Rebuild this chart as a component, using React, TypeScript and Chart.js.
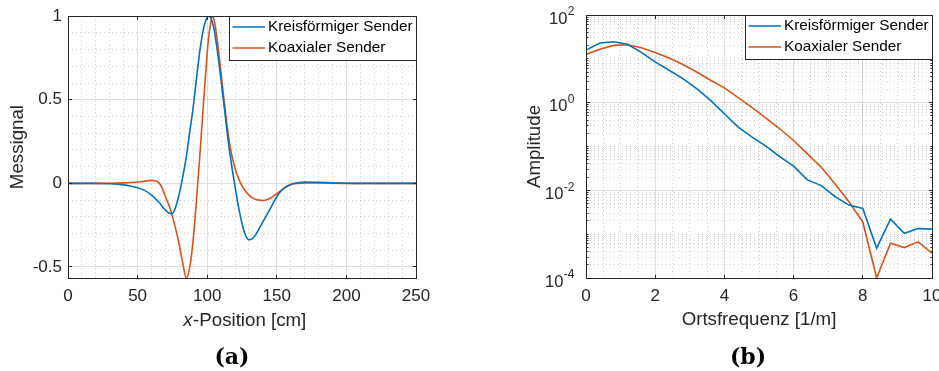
import React, { useEffect, useRef } from "react";
import { Chart, registerables } from "chart.js";
Chart.register(...registerables);

// ---------- data ----------
const SERIES = ["Kreisförmiger Sender", "Koaxialer Sender"];
const COLORS = ["#0072BD", "#D95319"];

// (a) Messignal over x-Position [cm]
const posCm = [0, 10, 20, 30, 40, 45, 50, 55, 60, 62.5, 65, 67.5, 70, 72.5, 74.5, 77, 80, 82.5, 85, 87.5, 90, 92.5, 95, 97.5, 100, 101, 102.5, 103.5, 105, 107.5, 110, 112.5, 115, 117.5, 120, 122.5, 125, 127.5, 130, 132.5, 135, 140, 145, 150, 152.5, 155, 160, 165, 170, 180, 190, 200, 210, 220, 230, 240, 250];
const signalKreis = [0, 0, 0, -0.002, -0.009, -0.016, -0.026, -0.042, -0.07, -0.088, -0.11, -0.135, -0.16, -0.177, -0.181, -0.15, -0.06, 0.04, 0.16, 0.31, 0.46, 0.64, 0.81, 0.93, 0.995, 1.0, 0.99, 0.97, 0.92, 0.78, 0.615, 0.44, 0.26, 0.11, -0.02, -0.14, -0.24, -0.31, -0.337, -0.33, -0.305, -0.23, -0.155, -0.08, -0.05, -0.03, -0.006, 0.004, 0.008, 0.006, 0.003, 0.001, 0, 0, 0, 0, 0];
const signalKoax = [0, 0, 0, 0.001, 0.003, 0.005, 0.008, 0.013, 0.018, 0.016, 0.006, -0.025, -0.08, -0.13, -0.181, -0.26, -0.37, -0.48, -0.566, -0.5, -0.33, -0.08, 0.2, 0.5, 0.78, 0.87, 0.96, 1.0, 0.975, 0.84, 0.655, 0.47, 0.3, 0.175, 0.09, 0.03, -0.015, -0.045, -0.07, -0.087, -0.097, -0.102, -0.09, -0.062, -0.047, -0.03, -0.008, 0, 0.003, 0.003, 0.001, 0, 0, 0, 0, 0, 0];
const posTicks = [0, 50, 100, 150, 200, 250];
const posTickLabels = ["0", "50", "100", "150", "200", "250"];
const signalTicks = [-0.5, 0, 0.5, 1];
const signalTickLabels = ["-0.5", "0", "0.5", "1"];

// (b) Amplitude over Ortsfrequenz [1/m]
const freq = [0, 0.4, 0.8, 1.2, 1.6, 2, 2.4, 2.8, 3.2, 3.6, 4, 4.4, 4.8, 5.2, 5.6, 6, 6.4, 6.8, 7.2, 7.6, 8, 8.4, 8.8, 9.2, 9.6, 10];
const ampKreis = [15.8, 22.9, 24.5, 21.5, 14.0, 8.5, 5.5, 3.55, 2.09, 1.13, 0.56, 0.277, 0.164, 0.102, 0.059, 0.0355, 0.0173, 0.0128, 0.00716, 0.00461, 0.00387, 0.00048, 0.00221, 0.00105, 0.00135, 0.0013];
const ampKoax = [12.6, 16.6, 20.3, 20.9, 17.9, 14.0, 10.5, 7.4, 5.0, 3.25, 2.17, 1.30, 0.77, 0.446, 0.254, 0.137, 0.068, 0.0336, 0.014, 0.0055, 0.0019, 0.0001, 0.00062, 0.000495, 0.000667, 0.000367];
const freqTicks = [0, 2, 4, 6, 8, 10];
const freqTickLabels = ["0", "2", "4", "6", "8", "10"];
const ampTicks = [1e-4, 1e-2, 1, 1e2];
const ampTickExponents = ["-4", "-2", "0", "2"];

// ---------- style ----------
const FONT = '"Liberation Sans", Arial, Helvetica, sans-serif';
const INK = "#262626";
const GRID = "#dfdfdf";
const MINOR = "rgba(38,38,38,0.22)";
const W = 939;
const H = 371;
const TOP = 15;
const BOTTOM = 278;
const A_W = 470;
const A_LEFT = 68;
const A_RIGHT = 416;
const B_OFFSET = 470;
const B_W = 480;
const B_LEFT = 116;
const B_RIGHT = 462;

const snap = (p: number) => Math.round(p - 0.5) + 0.5;

// minor grid positions (grid structure, not data)
const minorPosX: number[] = [];
for (let v = 10; v < 250; v += 10) if (v % 50 !== 0) minorPosX.push(v);
const minorSignalY: number[] = [];
for (let k = -5; k <= 10; k++) if (k % 5 !== 0) minorSignalY.push(k / 10);
const minorFreqX: number[] = [];
for (let k = 1; k < 20; k++) if (k % 4 !== 0) minorFreqX.push(k / 2);
const minorAmpY: number[] = [];
for (let d = -4; d <= 1; d++) {
  for (let k = 1; k <= 9; k++) {
    if (k === 1 && d % 2 === 0) continue;
    minorAmpY.push(k * Math.pow(10, d));
  }
}

function drawMinorGrid(chart: any, xs: number[], ys: number[]) {
  const { ctx, chartArea: a, scales } = chart;
  ctx.save();
  ctx.strokeStyle = MINOR;
  ctx.lineWidth = 1;
  ctx.setLineDash([1, 3]);
  for (const v of xs) {
    const px = snap(scales.x.getPixelForValue(v));
    ctx.beginPath();
    ctx.moveTo(px, a.top);
    ctx.lineTo(px, a.bottom);
    ctx.stroke();
  }
  for (const v of ys) {
    const py = snap(scales.y.getPixelForValue(v));
    ctx.beginPath();
    ctx.moveTo(a.left, py);
    ctx.lineTo(a.right, py);
    ctx.stroke();
  }
  ctx.restore();
}

function drawFrame(chart: any, majorX: number[], majorY: number[], minorTickY: number[]) {
  const { ctx, chartArea: a, scales } = chart;
  const l = snap(a.left), r = snap(a.right), t = snap(a.top), b = snap(a.bottom);
  ctx.save();
  ctx.strokeStyle = INK;
  ctx.lineWidth = 1;
  ctx.setLineDash([]);
  const TL = 3.5;
  ctx.beginPath();
  for (const v of majorX) {
    const px = snap(scales.x.getPixelForValue(v));
    ctx.moveTo(px, b); ctx.lineTo(px, b - TL);
    ctx.moveTo(px, t); ctx.lineTo(px, t + TL);
  }
  for (const v of majorY) {
    const py = snap(scales.y.getPixelForValue(v));
    ctx.moveTo(l, py); ctx.lineTo(l + TL, py);
    ctx.moveTo(r, py); ctx.lineTo(r - TL, py);
  }
  for (const v of minorTickY) {
    const py = snap(scales.y.getPixelForValue(v));
    ctx.moveTo(l, py); ctx.lineTo(l + 2, py);
    ctx.moveTo(r, py); ctx.lineTo(r - 2, py);
  }
  ctx.stroke();
  ctx.strokeRect(l, t, r - l, b - t);
  ctx.restore();
}

function drawLegend(chart: any) {
  const { ctx, chartArea: a } = chart;
  const sets = chart.data.datasets;
  ctx.save();
  ctx.font = `15.3px ${FONT}`;
  let tw = 0;
  for (const d of sets) tw = Math.max(tw, ctx.measureText(d.label).width);
  const boxW = Math.round(38.5 + tw + 3.5);
  const boxH = 44;
  const right = snap(a.right);
  const top = snap(a.top);
  const left = right - boxW;
  ctx.fillStyle = "#ffffff";
  ctx.fillRect(left, top, boxW, boxH);
  ctx.strokeStyle = INK;
  ctx.lineWidth = 1;
  ctx.strokeRect(left, top, boxW, boxH);
  sets.forEach((d: any, i: number) => {
    const y = top + 10.5 + i * 21;
    ctx.strokeStyle = d.borderColor;
    ctx.lineWidth = 1.6;
    ctx.beginPath();
    ctx.moveTo(left + 3, y);
    ctx.lineTo(left + 35.5, y);
    ctx.stroke();
    ctx.fillStyle = "#000000";
    ctx.textAlign = "left";
    ctx.textBaseline = "middle";
    ctx.fillText(d.label, left + 38.5, y);
  });
  ctx.restore();
}

function tickFont() {
  return { family: FONT, size: 17 };
}
function titleFont() {
  return { family: FONT, size: 18.7 };
}

function configA(): any {
  return {
    type: "line",
    data: {
      datasets: [
        { label: SERIES[0], data: posCm.map((x, i) => ({ x, y: signalKreis[i] })), borderColor: COLORS[0], backgroundColor: COLORS[0], borderWidth: 1.6, pointRadius: 0, cubicInterpolationMode: "monotone", fill: false },
        { label: SERIES[1], data: posCm.map((x, i) => ({ x, y: signalKoax[i] })), borderColor: COLORS[1], backgroundColor: COLORS[1], borderWidth: 1.6, pointRadius: 0, cubicInterpolationMode: "monotone", fill: false },
      ],
    },
    options: {
      responsive: false,
      animation: false,
      devicePixelRatio: 1,
      layout: { padding: { left: 0, top: TOP, right: A_W - A_RIGHT, bottom: 0 } },
      plugins: { legend: { display: false }, tooltip: { enabled: false } },
      scales: {
        x: {
          type: "linear", min: 0, max: 250,
          afterBuildTicks: (s: any) => { s.ticks = posTicks.map((v) => ({ value: v })); },
          afterFit: (s: any) => { s.height = H - BOTTOM; },
          grid: { color: GRID, lineWidth: 1, drawTicks: false },
          border: { display: false },
          ticks: { color: INK, font: tickFont(), padding: 8, maxRotation: 0, autoSkip: false, callback: (_v: any, i: number) => posTickLabels[i] },
        },
        y: {
          type: "linear", min: -0.566, max: 1,
          afterBuildTicks: (s: any) => { s.ticks = signalTicks.map((v) => ({ value: v })); },
          afterFit: (s: any) => { s.width = A_LEFT; },
          grid: { color: GRID, lineWidth: 1, drawTicks: false },
          border: { display: false },
          ticks: { color: INK, font: tickFont(), padding: 6, autoSkip: false, callback: (_v: any, i: number) => signalTickLabels[i] },
          title: { display: true, text: "Messignal", color: INK, font: titleFont(), padding: { top: 6.8, bottom: 0 } },
        },
      },
    },
    plugins: [
      {
        id: "frameA",
        beforeDatasetsDraw(chart: any) { drawMinorGrid(chart, minorPosX, minorSignalY); },
        afterDraw(chart: any) {
          drawFrame(chart, posTicks, signalTicks, []);
          drawLegend(chart);
          const { ctx, chartArea: a } = chart;
          ctx.save();
          ctx.fillStyle = INK;
          ctx.textBaseline = "alphabetic";
          ctx.textAlign = "left";
          const italic = `italic 18.7px ${FONT}`;
          const normal = `18.7px ${FONT}`;
          ctx.font = italic;
          const w1 = ctx.measureText("x").width;
          ctx.font = normal;
          const rest = "-Position [cm]";
          const w2 = ctx.measureText(rest).width;
          const cx = (a.left + a.right) / 2 + 2.5;
          const x0 = cx - (w1 + w2) / 2;
          ctx.font = italic;
          ctx.fillText("x", x0, 326);
          ctx.font = normal;
          ctx.fillText(rest, x0 + w1 + 0.5, 326);
          ctx.restore();
        },
      },
    ],
  };
}

function configB(): any {
  return {
    type: "line",
    data: {
      datasets: [
        { label: SERIES[0], data: freq.map((x, i) => ({ x, y: ampKreis[i] })), borderColor: COLORS[0], backgroundColor: COLORS[0], borderWidth: 1.6, pointRadius: 0, tension: 0, fill: false },
        { label: SERIES[1], data: freq.map((x, i) => ({ x, y: ampKoax[i] })), borderColor: COLORS[1], backgroundColor: COLORS[1], borderWidth: 1.6, pointRadius: 0, tension: 0, fill: false },
      ],
    },
    options: {
      responsive: false,
      animation: false,
      devicePixelRatio: 1,
      layout: { padding: { left: 0, top: TOP, right: B_W - B_RIGHT, bottom: 0 } },
      plugins: { legend: { display: false }, tooltip: { enabled: false } },
      scales: {
        x: {
          type: "linear", min: 0, max: 10,
          afterBuildTicks: (s: any) => { s.ticks = freqTicks.map((v) => ({ value: v })); },
          afterFit: (s: any) => { s.height = H - BOTTOM; },
          grid: { color: GRID, lineWidth: 1, drawTicks: false },
          border: { display: false },
          ticks: { color: INK, font: tickFont(), padding: 8, maxRotation: 0, autoSkip: false, callback: (_v: any, i: number) => freqTickLabels[i] },
          title: { display: true, text: "Ortsfrequenz [1/m]", color: INK, font: titleFont(), padding: { top: 0, bottom: 40.3 } },
        },
        y: {
          type: "logarithmic", min: 1e-4, max: 1e2,
          afterBuildTicks: (s: any) => { s.ticks = ampTicks.map((v) => ({ value: v })); },
          afterFit: (s: any) => { s.width = B_LEFT; },
          grid: { color: GRID, lineWidth: 1, drawTicks: false },
          border: { display: false },
          ticks: { display: false },
          title: { display: true, text: "Amplitude", color: INK, font: titleFont(), padding: { top: 53.8, bottom: 0 } },
        },
      },
    },
    plugins: [
      {
        id: "frameB",
        beforeDatasetsDraw(chart: any) { drawMinorGrid(chart, minorFreqX, minorAmpY); },
        afterDraw(chart: any) {
          drawFrame(chart, freqTicks, ampTicks, minorAmpY);
          drawLegend(chart);
          const { ctx, chartArea: a, scales } = chart;
          ctx.save();
          ctx.fillStyle = INK;
          ctx.textAlign = "right";
          ctx.textBaseline = "middle";
          ampTicks.forEach((v, i) => {
            const y = scales.y.getPixelForValue(v);
            const exp = ampTickExponents[i];
            ctx.font = `12px ${FONT}`;
            const ew = ctx.measureText(exp).width;
            const er = a.left - 11.5;
            ctx.fillText(exp, er, y - 3);
            ctx.font = `16.5px ${FONT}`;
            ctx.fillText("10", er - ew - 0.5, y + 4);
          });
          ctx.restore();
        },
      },
    ],
  };
}

const captionStyle: React.CSSProperties = {
  position: "absolute",
  top: 343,
  width: 80,
  textAlign: "center",
  fontFamily: '"DejaVu Serif", "Liberation Serif", serif',
  fontWeight: "bold",
  fontSize: 22,
  lineHeight: "26px",
  color: "#000",
};

export default function App() {
  const refA = useRef<HTMLCanvasElement>(null);
  const refB = useRef<HTMLCanvasElement>(null);
  useEffect(() => {
    const ca = new Chart(refA.current as HTMLCanvasElement, configA());
    const cb = new Chart(refB.current as HTMLCanvasElement, configB());
    return () => {
      ca.destroy();
      cb.destroy();
    };
  }, []);
  return (
    <div style={{ position: "fixed", left: 0, top: 0, width: W, height: H, overflow: "hidden", background: "#ffffff" }}>
      <canvas ref={refA} width={A_W} height={H} style={{ position: "absolute", left: 0, top: 0, width: A_W, height: H }} />
      <canvas ref={refB} width={B_W} height={H} style={{ position: "absolute", left: B_OFFSET, top: 0, width: B_W, height: H }} />
      <div style={{ ...captionStyle, left: 232 - 40 }}>(a)</div>
      <div style={{ ...captionStyle, left: 748 - 40 }}>(b)</div>
    </div>
  );
}
